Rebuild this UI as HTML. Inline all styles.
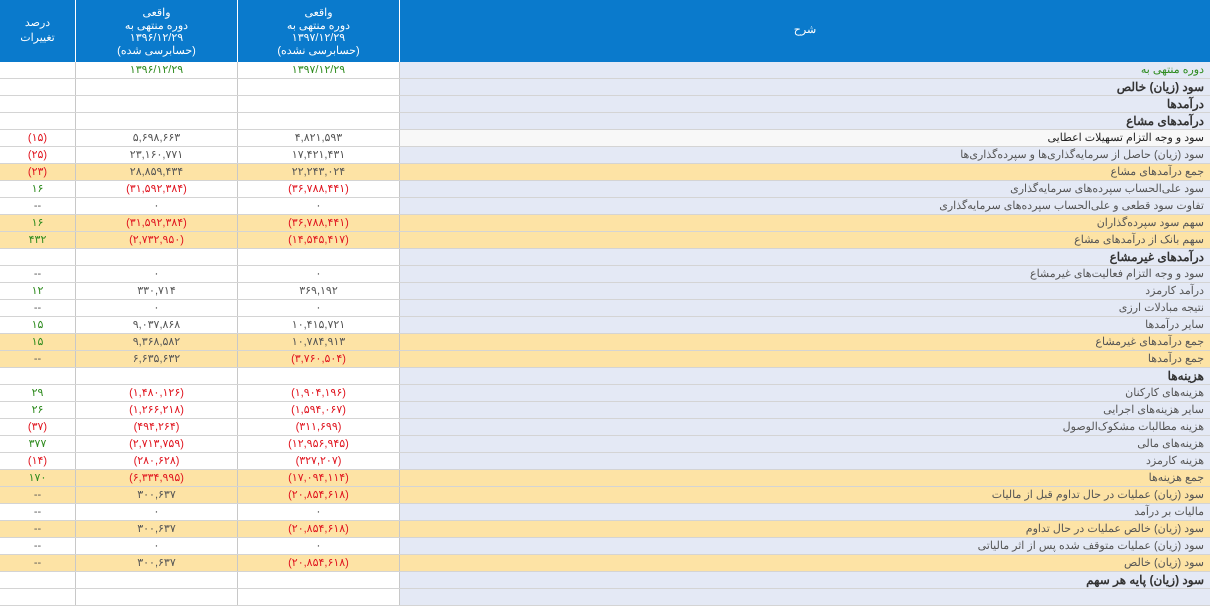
<!DOCTYPE html>
<html><head><meta charset="utf-8">
<style>
*{margin:0;padding:0;box-sizing:border-box}
body{width:1210px;height:598px;overflow:hidden;background:#fff;font-family:"Liberation Sans","Noto Sans CJK SC",sans-serif;font-size:11px;color:#555}
.hdr{position:absolute;left:0;top:0;width:1210px;height:62px;background:#0a7acc;color:#fff}
.hdr div{position:absolute;top:0;height:62px;text-align:center;line-height:12.5px;border-right:1px solid #fff;padding-top:7px;font-size:11px}
.row{position:absolute;left:0;width:1210px;height:17px;border-bottom:1px solid #d4d4d4}
.row div{position:absolute;top:0;height:16px;line-height:16px;text-align:center;border-right:1px solid #c8c8c8}
.c1{left:0;width:76px}.c2{left:76px;width:162px}.c3{left:238px;width:162px}
.row .c4{left:400px;width:810px;text-align:right;padding-right:6px;background:#e4e9f5;color:#555;border-right:none}
.o{background:#fde3a5}.o .c4{background:#fde3a5}
.w .c4{background:#f8f8f8;color:#222}
.b .c4{font-weight:bold;font-size:12px;color:#333}
.r{color:#e0151f}.g{color:#2e8b1e}
.gt .c4{color:#2e8b1e}
</style></head><body>
<div class="hdr">
<div style="left:0;width:76px;padding-top:16px;line-height:15px">درصد<br>تغییرات</div>
<div style="left:76px;width:162px">واقعی<br>دوره منتهی به<br>۱۳۹۶/۱۲/۲۹<br>(حسابرسی شده)</div>
<div style="left:238px;width:162px">واقعی<br>دوره منتهی به<br>۱۳۹۷/۱۲/۲۹<br>(حسابرسی نشده)</div>
<div style="left:400px;width:810px;padding-top:24px;border:none">شرح</div>
</div>
<div id="t"></div>
<script>
var R=[
["gt","","g:۱۳۹۶/۱۲/۲۹","g:۱۳۹۷/۱۲/۲۹","دوره منتهی به"],
["b","","","","سود (زیان) خالص"],
["b","","","","درآمدها"],
["b","","","","درآمدهای مشاع"],
["w","r:(۱۵)","۵,۶۹۸,۶۶۳","۴,۸۲۱,۵۹۳","سود و وجه التزام تسهیلات اعطایی"],
["","r:(۲۵)","۲۳,۱۶۰,۷۷۱","۱۷,۴۲۱,۴۳۱","سود (زیان) حاصل از سرمایه‌گذاری‌ها و سپرده‌گذاری‌ها"],
["o","r:(۲۳)","۲۸,۸۵۹,۴۳۴","۲۲,۲۴۳,۰۲۴","جمع درآمدهای مشاع"],
["","g:۱۶","r:(۳۱,۵۹۲,۳۸۴)","r:(۳۶,۷۸۸,۴۴۱)","سود علی‌الحساب سپرده‌های سرمایه‌گذاری"],
["","--","۰","۰","تفاوت سود قطعی و علی‌الحساب سپرده‌های سرمایه‌گذاری"],
["o","g:۱۶","r:(۳۱,۵۹۲,۳۸۴)","r:(۳۶,۷۸۸,۴۴۱)","سهم سود سپرده‌گذاران"],
["o","g:۴۳۲","r:(۲,۷۳۲,۹۵۰)","r:(۱۴,۵۴۵,۴۱۷)","سهم بانک از درآمدهای مشاع"],
["b","","","","درآمدهای غیرمشاع"],
["","--","۰","۰","سود و وجه التزام فعالیت‌های غیرمشاع"],
["","g:۱۲","۳۳۰,۷۱۴","۳۶۹,۱۹۲","درآمد کارمزد"],
["","--","۰","۰","نتیجه مبادلات ارزی"],
["","g:۱۵","۹,۰۳۷,۸۶۸","۱۰,۴۱۵,۷۲۱","سایر درآمدها"],
["o","g:۱۵","۹,۳۶۸,۵۸۲","۱۰,۷۸۴,۹۱۳","جمع درآمدهای غیرمشاع"],
["o","--","۶,۶۳۵,۶۳۲","r:(۳,۷۶۰,۵۰۴)","جمع درآمدها"],
["b","","","","هزینه‌ها"],
["","g:۲۹","r:(۱,۴۸۰,۱۲۶)","r:(۱,۹۰۴,۱۹۶)","هزینه‌های کارکنان"],
["","g:۲۶","r:(۱,۲۶۶,۲۱۸)","r:(۱,۵۹۴,۰۶۷)","سایر هزینه‌های اجرایی"],
["","r:(۳۷)","r:(۴۹۴,۲۶۴)","r:(۳۱۱,۶۹۹)","هزینه مطالبات مشکوک‌الوصول"],
["","g:۳۷۷","r:(۲,۷۱۳,۷۵۹)","r:(۱۲,۹۵۶,۹۴۵)","هزینه‌های مالی"],
["","r:(۱۴)","r:(۲۸۰,۶۲۸)","r:(۳۲۷,۲۰۷)","هزینه کارمزد"],
["o","g:۱۷۰","r:(۶,۳۳۴,۹۹۵)","r:(۱۷,۰۹۴,۱۱۴)","جمع هزینه‌ها"],
["o","--","۳۰۰,۶۳۷","r:(۲۰,۸۵۴,۶۱۸)","سود (زیان) عملیات در حال تداوم قبل از مالیات"],
["","--","۰","۰","مالیات بر درآمد"],
["o","--","۳۰۰,۶۳۷","r:(۲۰,۸۵۴,۶۱۸)","سود (زیان) خالص عملیات در حال تداوم"],
["","--","۰","۰","سود (زیان) عملیات متوقف شده پس از اثر مالیاتی"],
["o","--","۳۰۰,۶۳۷","r:(۲۰,۸۵۴,۶۱۸)","سود (زیان) خالص"],
["b","","","","سود (زیان) پایه هر سهم"],
["","","","",""]];
function cell(c,v){var cl="";if(v.indexOf("r:")==0){cl=" r";v=v.slice(2)}else if(v.indexOf("g:")==0){cl=" g";v=v.slice(2)}return '<div class="'+c+cl+'">'+v+'</div>'}
var h="";R.forEach(function(r,i){h+='<div class="row '+r[0]+'" style="top:'+(62+i*17)+'px">'+cell("c1",r[1])+cell("c2",r[2])+cell("c3",r[3])+'<div class="c4">'+r[4]+'</div></div>'});
document.getElementById("t").innerHTML=h;
</script>
</body></html>
